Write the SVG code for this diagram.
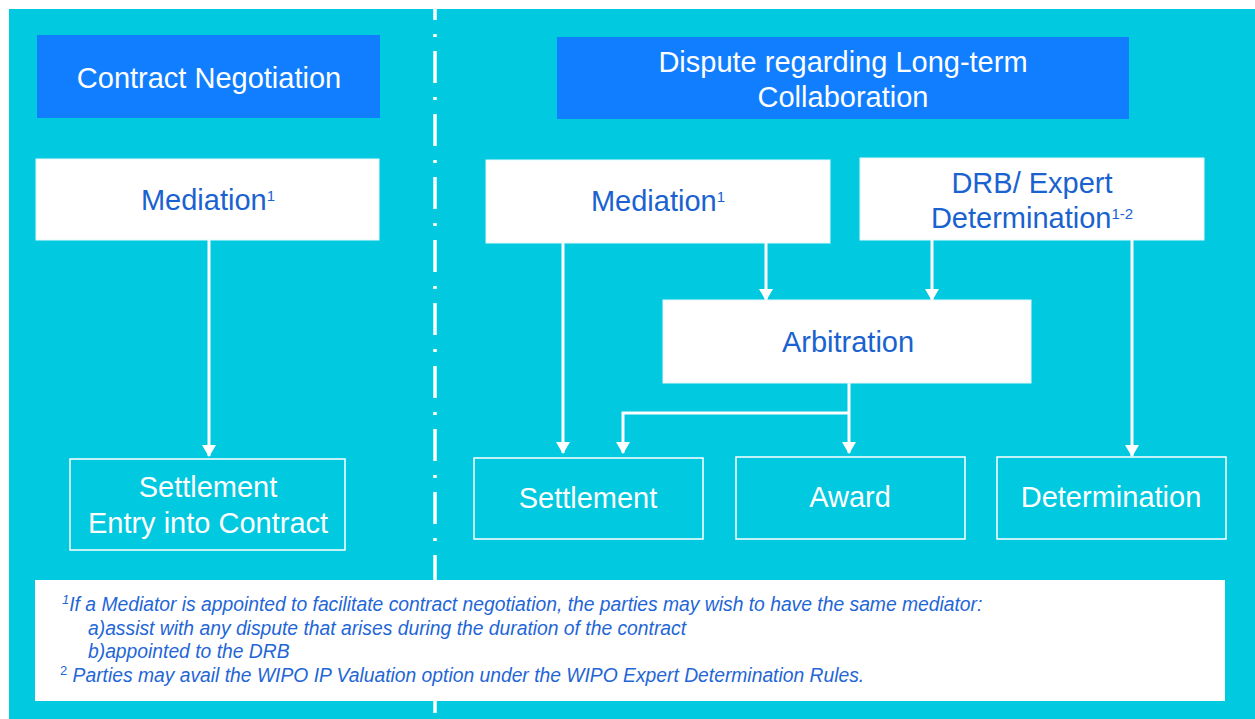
<svg xmlns="http://www.w3.org/2000/svg" width="1255" height="719" viewBox="0 0 1255 719">
<defs>
<marker id="ahd" markerUnits="userSpaceOnUse" markerWidth="14" markerHeight="14" viewBox="0 0 14 14" refX="11" refY="7" orient="auto">
<path d="M0,0 L12,7 L0,14 Z" fill="#ffffff"/>
</marker>
</defs>
<style>
.hdr{fill:#107EFF}
.wb{fill:#ffffff;stroke:#e6f7fb;stroke-width:1}
.ob{fill:none;stroke:#ffffff;stroke-width:1.5}
.t{font-family:"Liberation Sans",Arial,sans-serif;text-anchor:middle}
.th{font-size:29px;fill:#ffffff}
.tb{font-size:29px;fill:#1A62D0}
.to{font-size:29px;fill:#ffffff}
.fn{font-family:"Liberation Sans",Arial,sans-serif;font-style:italic;font-size:19.3px;fill:#1F66D6}
.sup{font-size:15px}
.c{fill:none;stroke:#ffffff;stroke-width:3}
</style>
<rect x="0" y="0" width="1255" height="719" fill="#ffffff"/>
<rect x="9" y="9" width="1246" height="710" fill="#00C9E0"/>
<line x1="435" y1="9" x2="435" y2="719" stroke="#ffffff" stroke-width="3.5" stroke-dasharray="32 14 3 14" stroke-dashoffset="21"/>

<g id="connectors">
<line class="c" x1="209" y1="240" x2="209" y2="456" marker-end="url(#ahd)"/>
<line class="c" x1="563" y1="243" x2="563" y2="453" marker-end="url(#ahd)"/>
<line class="c" x1="766" y1="243" x2="766" y2="300" marker-end="url(#ahd)"/>
<line class="c" x1="932" y1="240" x2="932" y2="300" marker-end="url(#ahd)"/>
<line class="c" x1="1132" y1="240" x2="1132" y2="456" marker-end="url(#ahd)"/>
<line class="c" x1="849" y1="383" x2="849" y2="453" marker-end="url(#ahd)"/>
<polyline class="c" points="849,413 623,413 623,453" marker-end="url(#ahd)"/>
</g>

<g id="contract-negotiation">
<rect class="hdr" x="37" y="35" width="343" height="83"/>
<text class="t th" x="209" y="88">Contract Negotiation</text>
</g>
<g id="dispute">
<rect class="hdr" x="557" y="37" width="572" height="82"/>
<text class="t th" x="843" y="72">Dispute regarding Long-term</text>
<text class="t th" x="843" y="107">Collaboration</text>
</g>
<g id="mediation-left">
<rect class="wb" x="36" y="159" width="343" height="81"/>
<text class="t tb" x="208" y="210">Mediation<tspan class="sup" dy="-9">1</tspan></text>
</g>
<g id="mediation-right">
<rect class="wb" x="486" y="160" width="344" height="83"/>
<text class="t tb" x="658" y="211">Mediation<tspan class="sup" dy="-9">1</tspan></text>
</g>
<g id="drb">
<rect class="wb" x="860" y="158" width="344" height="82"/>
<text class="t tb" x="1032" y="193">DRB/ Expert</text>
<text class="t tb" x="1032" y="228">Determination<tspan class="sup" dy="-9">1-2</tspan></text>
</g>
<g id="arbitration">
<rect class="wb" x="663" y="300" width="368" height="83"/>
<text class="t tb" x="848" y="352">Arbitration</text>
</g>
<g id="settlement-left">
<rect class="ob" x="70" y="459" width="275" height="91"/>
<text class="t to" x="208" y="497">Settlement</text>
<text class="t to" x="208" y="533">Entry into Contract</text>
</g>
<g id="settlement">
<rect class="ob" x="474" y="458" width="229" height="81"/>
<text class="t to" x="588" y="508">Settlement</text>
</g>
<g id="award">
<rect class="ob" x="736" y="457" width="229" height="82"/>
<text class="t to" x="850" y="507">Award</text>
</g>
<g id="determination">
<rect class="ob" x="997" y="457" width="229" height="82"/>
<text class="t to" x="1111" y="507">Determination</text>
</g>

<g id="footnotes">
<rect x="35" y="580" width="1190" height="121" fill="#ffffff"/>
<text class="fn" x="62" y="611"><tspan font-size="13" dy="-7">1</tspan><tspan dy="7">If a Mediator is appointed to facilitate contract negotiation, the parties may wish to have the same mediator:</tspan></text>
<text class="fn" x="88" y="635">a)assist with any dispute that arises during the duration of the contract</text>
<text class="fn" x="88" y="658">b)appointed to the DRB</text>
<text class="fn" x="60" y="682"><tspan font-size="13" dy="-7" font-style="normal">2</tspan><tspan dy="7"> Parties may avail the WIPO IP Valuation option under the WIPO Expert Determination Rules.</tspan></text>
</g>
</svg>
